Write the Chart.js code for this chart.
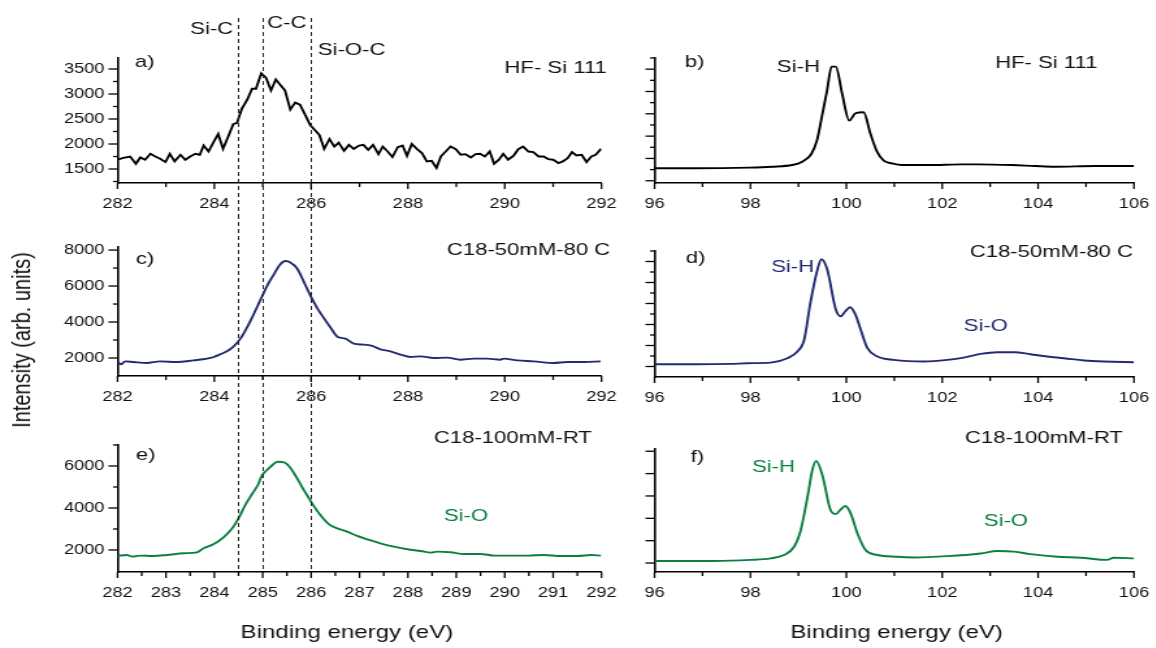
<!DOCTYPE html>
<html>
<head>
<meta charset="utf-8">
<title>XPS C1s / Si2p</title>
<script src="https://cdn.jsdelivr.net/npm/chart.js@4.4.0/dist/chart.umd.min.js"></script>
<style>
  html, body { margin: 0; padding: 0; background: #fff; }
  body { width: 1156px; height: 648px; overflow: hidden; position: relative; }
  /* the original figure is a stretched Arial figure: draw it at 889px and widen it */
  #figure { position: absolute; left: 0; top: 0; width: 889px; height: 648px; transform: scaleX(1.3); transform-origin: 0 0; }
  .panel { position: absolute; }
  #ytitle {
    position: absolute; left: 17px; top: 340px; white-space: nowrap;
    font: 20px "Liberation Sans", Arial, sans-serif; color: #111;
    transform: translate(-50%, -50%) rotate(-90deg);
  }
</style>
</head>
<body>
<div id="figure">
  <div class="panel" style="left:0;top:0"><canvas id="pa" width="480" height="215"></canvas></div>
  <div class="panel" style="left:0;top:215px"><canvas id="pc" width="480" height="210"></canvas></div>
  <div class="panel" style="left:0;top:425px"><canvas id="pe" width="480" height="223"></canvas></div>
  <div class="panel" style="left:480px;top:0"><canvas id="pb" width="409" height="215"></canvas></div>
  <div class="panel" style="left:480px;top:215px"><canvas id="pd" width="409" height="210"></canvas></div>
  <div class="panel" style="left:480px;top:425px"><canvas id="pf" width="409" height="223"></canvas></div>
  <div id="ytitle">Intensity (arb. units)</div>
</div>
<script>
// Data

// C 1s, HF-Si 111
const aEnergy = [282.0,282.1,282.26,282.38,282.47,282.57,282.68,282.78,282.88,282.99,
  283.08,283.18,283.3,283.4,283.5,283.61,283.7,283.78,283.88,283.99,
  284.08,284.18,284.3,284.39,284.47,284.57,284.68,284.78,284.86,284.97,
  285.07,285.17,285.27,285.36,285.46,285.57,285.67,285.77,285.88,285.98,
  286.09,286.17,286.27,286.38,286.48,286.57,286.68,286.78,286.88,286.99,
  287.08,287.18,287.28,287.39,287.48,287.58,287.68,287.79,287.89,287.98,
  288.08,288.19,288.29,288.39,288.49,288.59,288.68,288.78,288.88,288.99,
  289.09,289.19,289.3,289.4,289.49,289.59,289.69,289.78,289.88,289.97,
  290.07,290.18,290.28,290.38,290.49,290.59,290.7,290.8,290.9,291.0,
  291.11,291.2,291.3,291.39,291.48,291.59,291.69,291.79,291.88,291.99];
const aCounts = [1685,1718,1750,1605,1731,1685,1804,1750,1705,1640,
  1804,1652,1784,1685,1750,1804,1784,1969,1850,2048,
  2200,1903,2180,2398,2424,2708,2886,3104,3104,3414,
  3322,3071,3289,3183,3071,2688,2827,2787,2576,2378,
  2266,2180,1903,2100,1949,2028,1863,1982,1903,1969,
  1982,1883,1982,1797,1949,1850,1738,1936,1969,1764,
  2002,1896,1817,1652,1665,1520,1750,1850,1949,1896,
  1784,1797,1731,1797,1804,1750,1850,1605,1685,1804,
  1685,1764,1896,1949,1850,1837,1750,1750,1698,1685,
  1619,1652,1718,1837,1771,1784,1639,1750,1784,1903];

// C 1s, C18-50mM-80 C
const cEnergy = [282.0,282.07,282.16,282.33,282.6,282.88,283.23,283.57,283.85,283.99,
  284.12,284.26,284.4,284.54,284.67,284.81,284.95,285.09,285.23,285.36,
  285.47,285.57,285.71,285.85,285.98,286.12,286.26,286.4,286.55,286.71,
  286.88,287.09,287.26,287.43,287.64,287.85,288.05,288.26,288.53,288.81,
  289.08,289.36,289.63,289.91,289.98,290.26,290.6,291.01,291.29,291.64,291.98];
const cCounts = [1777,1647,1814,1777,1721,1814,1777,1870,1963,2056,
  2204,2372,2650,3078,3672,4415,5214,6013,6645,7202,
  7388,7314,6979,6236,5493,4805,4230,3691,3170,3078,
  2799,2743,2669,2483,2372,2186,2056,2093,2000,2019,
  1907,1963,1963,1907,1963,1870,1814,1721,1777,1777,1814];

// C 1s, C18-100mM-RT
const eEnergy = [282.0,282.19,282.3,282.47,282.74,283.02,283.37,283.64,283.78,283.99,
  284.19,284.37,284.5,284.64,284.78,284.9,284.99,285.09,285.2,285.3,
  285.44,285.57,285.71,285.85,286.02,286.19,286.37,286.54,286.74,286.95,
  287.16,287.43,287.71,287.99,288.26,288.47,288.61,288.88,289.16,289.5,
  289.78,290.12,290.47,290.81,291.16,291.5,291.78,291.99];
const eCounts = [1714,1762,1683,1730,1714,1762,1841,1889,2079,2286,
  2603,3032,3508,4142,4666,5095,5571,5809,6047,6205,
  6174,5920,5412,4857,4222,3666,3222,3032,2873,2667,
  2508,2317,2159,2032,1952,1873,1921,1889,1810,1810,
  1730,1730,1730,1762,1714,1714,1762,1730];

// Si 2p panels (no scale given, arbitrary units)
const bEnergy = [96.0,96.85,97.97,98.45,98.87,99.08,99.27,99.39,99.49,99.6,
  99.69,99.78,99.91,100.06,100.19,100.36,100.5,100.64,100.78,100.95,
  101.16,101.72,102.41,102.76,103.45,103.94,104.35,105.19,106.0];
const bIntensity = [1.12,1.12,1.18,1.26,1.41,1.71,2.4,3.66,5.75,8.14,
  10.23,10.23,7.84,5.39,6.05,6.14,4.25,2.61,1.8,1.56,
  1.41,1.41,1.47,1.47,1.41,1.32,1.26,1.32,1.32];

const dEnergy = [96.0,96.89,97.59,97.93,98.42,98.77,98.98,99.12,99.25,99.39,
  99.48,99.6,99.78,99.88,99.98,100.08,100.19,100.3,100.44,100.65,
  100.99,101.62,102.11,102.45,102.8,103.15,103.5,103.84,104.19,104.54,
  104.96,105.37,106.0];
const dIntensity = [0.21,0.21,0.25,0.31,0.37,0.79,1.43,2.55,6.06,9.1,
  10.21,9.26,5.42,4.78,5.26,5.65,4.94,3.5,1.75,0.95,
  0.63,0.47,0.63,0.85,1.2,1.36,1.36,1.17,0.95,0.79,
  0.57,0.47,0.41];

const fEnergy = [96.0,97.24,98.0,98.42,98.7,98.91,99.05,99.19,99.29,99.37,
  99.5,99.67,99.78,99.87,99.98,100.09,100.23,100.4,100.65,101.06,
  101.41,102.11,102.8,103.15,103.5,103.84,104.4,104.89,105.44,105.58,106.0];
const fIntensity = [0.09,0.09,0.14,0.21,0.36,0.73,1.48,2.96,4.15,4.57,
  3.93,2.37,2.19,2.37,2.55,2.22,1.33,0.58,0.36,0.28,
  0.25,0.31,0.43,0.54,0.51,0.4,0.28,0.24,0.14,0.24,0.21];

// Reference energies (dashed lines through the C 1s column)
const markerEnergies = [284.5, 285, 286];

// Tick positions; the labelled ones are multiples of "major"
const stepsBetween = (lo, hi, step) => {
  const n = Math.round((hi - lo) / step);
  return Array.from({ length: n + 1 }, (_, i) => Math.round((lo + i * step) * 1e6) / 1e6);
};
const cXTicks = stepsBetween(282, 292, 1);      // labels every 2 eV
const eXTicks = stepsBetween(282, 292, 0.5);    // labels every 1 eV
const siXTicks = stepsBetween(96, 106, 1);      // labels every 2 eV
const aYTicks = stepsBetween(1250, 3500, 250);  // labels every 500
const cYTicks = stepsBetween(2000, 8000, 1000); // labels every 2000
const eYTicks = stepsBetween(2000, 7000, 1000); // labels every 2000
const bYTicks = stepsBetween(0, 11, 1);
const dYTicks = stepsBetween(0, 11, 1);
const fYTicks = stepsBetween(0, 5, 1);

// Text labels, placed in data coordinates
const X_TITLE = "Binding energy (eV)";
const aNotes = [
  { text: "a)", x: 282.36, y: 3640, align: "left" },
  { text: "HF- Si 111", x: 292.11, y: 3520, align: "right" },
  { text: "Si-C", x: 284.39, y: 4300, align: "right" },
  { text: "C-C", x: 285.09, y: 4420, align: "left" },
  { text: "Si-O-C", x: 286.14, y: 3880, align: "left" },
];
const bNotes = [
  { text: "b)", x: 96.63, y: 10.65, align: "left" },
  { text: "Si-H", x: 99.0, y: 10.2, align: "center" },
  { text: "HF- Si 111", x: 104.17, y: 10.56, align: "center" },
];
const cNotes = [
  { text: "c)", x: 282.38, y: 7500, align: "left" },
  { text: "C18-50mM-80 C", x: 292.18, y: 8000, align: "right" },
];
const dNotes = [
  { text: "d)", x: 96.65, y: 10.3, align: "left" },
  { text: "Si-H", x: 98.88, y: 9.45, align: "center", color: "#232a6f" },
  { text: "Si-O", x: 102.91, y: 3.79, align: "center", color: "#232a6f" },
  { text: "C18-50mM-80 C", x: 105.98, y: 10.9, align: "right" },
];
const eNotes = [
  { text: "e)", x: 282.38, y: 6520, align: "left" },
  { text: "C18-100mM-RT", x: 291.8, y: 7330, align: "right" },
  { text: "Si-O", x: 289.2, y: 3620, align: "center", color: "#0b7f42" },
  { text: X_TITLE, x: 286.74, y: -1950, align: "center", size: 18.5 },
];
const fNotes = [
  { text: "f)", x: 96.75, y: 4.73, align: "left" },
  { text: "Si-H", x: 98.48, y: 4.29, align: "center", color: "#0b7f42" },
  { text: "Si-O", x: 103.33, y: 1.88, align: "center", color: "#0b7f42" },
  { text: "C18-100mM-RT", x: 104.12, y: 5.58, align: "center" },
  { text: X_TITLE, x: 101.05, y: -3.12, align: "center", size: 18.5 },
];

const FONT = '"Liberation Sans", Arial, sans-serif';
Chart.defaults.font.family = FONT;
Chart.defaults.color = "#000";

const isMultiple = (v, step) => Math.abs(v / step - Math.round(v / step)) < 1e-6;

// Plugins

// short/long tick marks drawn outward at every library tick
const axisTicks = {
  id: "axisTicks",
  afterDraw(chart, args, opts) {
    const ctx = chart.ctx;
    ctx.save();
    ctx.strokeStyle = "#000";
    ctx.lineWidth = 1.3;
    ["x", "y"].forEach(id => {
      const scale = chart.scales[id];
      const major = opts[id + "Major"];
      scale.ticks.forEach(t => {
        const big = isMultiple(t.value, major);
        const p = scale.getPixelForValue(t.value);
        ctx.beginPath();
        if (id === "x") {
          ctx.moveTo(p, scale.top);
          ctx.lineTo(p, scale.top + (big ? 6 : 4));
        } else {
          ctx.moveTo(scale.right, p);
          ctx.lineTo(scale.right - (big ? 7 : 3.5), p);
        }
        ctx.stroke();
      });
    });
    ctx.restore();
  },
};

// dashed vertical reference lines
const markerLines = {
  id: "markerLines",
  afterDraw(chart, args, opts) {
    if (!opts.show) return;
    const { ctx, chartArea } = chart;
    const x = chart.scales.x;
    const top = opts.from || 0;
    const bottom = opts.stopAtAxis ? chartArea.bottom : chart.height;
    ctx.save();
    ctx.strokeStyle = "#222";
    ctx.lineWidth = 1;
    ctx.setLineDash([4, 3]);
    markerEnergies.forEach(v => {
      const px = Math.round(x.getPixelForValue(v)) + 0.5;
      ctx.beginPath();
      ctx.moveTo(px, top);
      ctx.lineTo(px, bottom);
      ctx.stroke();
    });
    ctx.restore();
  },
};

// free text labels
const notes = {
  id: "notes",
  afterDraw(chart, args, opts) {
    const { ctx } = chart;
    const { x, y } = chart.scales;
    ctx.save();
    ctx.textBaseline = "middle";
    (opts.items || []).forEach(n => {
      ctx.font = (n.size || 17) + "px " + FONT;
      ctx.fillStyle = n.color || "#111";
      ctx.textAlign = n.align;
      ctx.fillText(n.text, x.getPixelForValue(n.x), y.getPixelForValue(n.y));
    });
    ctx.restore();
  },
};

// Chart declaration

const makePanel = p => {
  const ctx = document.getElementById(p.id).getContext("2d");
  return new Chart(ctx, {
    type: "line",
    data: {
      datasets: [
        {
          data: p.energy.map((e, i) => ({ x: e, y: p.counts[i] })),
          borderColor: p.color,
          borderWidth: 1.9,
          pointRadius: 0,
          fill: false,
          cubicInterpolationMode: p.smooth ? "monotone" : "default",
          tension: 0,
        },
      ],
    },
    options: {
      responsive: false,
      animation: false,
      events: [],
      layout: { padding: { top: p.top, right: p.right, left: 0, bottom: 0 } },
      scales: {
        x: {
          type: "linear",
          min: p.xRange[0],
          max: p.xRange[1],
          grid: { display: false, drawTicks: false },
          border: { display: true, color: "#000", width: 1.6 },
          ticks: {
            autoSkip: false,
            maxRotation: 0,
            padding: 13,
            font: { size: 14 },
            color: "#111",
            callback: v => (isMultiple(v, p.xMajor) ? String(v) : ""),
          },
          afterBuildTicks: s => { s.ticks = p.xTicks.map(v => ({ value: v })); },
          afterFit: s => { s.height = p.xHeight; s.paddingLeft = 0; s.paddingRight = 0; },
        },
        y: {
          type: "linear",
          min: p.yRange[0],
          max: p.yRange[1],
          grid: { display: false, drawTicks: false },
          border: { display: true, color: "#000", width: 1.6 },
          ticks: {
            autoSkip: false,
            padding: 10,
            font: { size: 14 },
            color: "#111",
            callback: v => (p.yLabels && isMultiple(v, p.yMajor) ? String(v) : ""),
          },
          afterBuildTicks: s => { s.ticks = p.yTicks.map(v => ({ value: v })); },
          afterFit: s => { s.width = p.yWidth; s.paddingTop = 0; s.paddingBottom = 0; },
        },
      },
      plugins: {
        legend: { display: false },
        tooltip: { enabled: false },
        axisTicks: { xMajor: p.xMajor, yMajor: p.yMajor },
        markerLines: { show: !!p.markers, from: p.markers ? p.markers.from : 0, stopAtAxis: p.markers ? p.markers.stopAtAxis : false },
        notes: { items: p.notes },
      },
    },
    plugins: [markerLines, axisTicks, notes],
  });
};

const LEFT = { xRange: [282, 292], xTicks: cXTicks, xMajor: 2, yWidth: 90.4, right: 17.3, yLabels: true };
const RIGHT = { xRange: [96, 106], xTicks: siXTicks, xMajor: 2, yWidth: 23.5, right: 16.7, yLabels: false, smooth: true };

[
  { ...LEFT, id: "pa", energy: aEnergy, counts: aCounts, color: "#000",
    yRange: [1220, 3720], yTicks: aYTicks, yMajor: 500, top: 58, xHeight: 32, notes: aNotes,
    markers: { from: 18, stopAtAxis: false }, smooth: false },
  { ...LEFT, id: "pc", energy: cEnergy, counts: cCounts, color: "#232a6f",
    yRange: [1000, 8170], yTicks: cYTicks, yMajor: 2000, top: 32, xHeight: 49, notes: cNotes,
    markers: { from: 0, stopAtAxis: false }, smooth: true },
  { ...LEFT, id: "pe", energy: eEnergy, counts: eCounts, color: "#0b7f42", xTicks: eXTicks, xMajor: 1,
    yRange: [950, 7000], yTicks: eYTicks, yMajor: 2000, top: 20, xHeight: 76, notes: eNotes,
    markers: { from: 0, stopAtAxis: true }, smooth: true },
  { ...RIGHT, id: "pb", energy: bEnergy, counts: bIntensity, color: "#000",
    yRange: [-0.2, 11], yTicks: bYTicks, yMajor: 2, top: 58, xHeight: 32, notes: bNotes },
  { ...RIGHT, id: "pd", energy: dEnergy, counts: dIntensity, color: "#232a6f",
    yRange: [-1, 11], yTicks: dYTicks, yMajor: 2, top: 36, xHeight: 48, notes: dNotes },
  { ...RIGHT, id: "pf", energy: fEnergy, counts: fIntensity, color: "#0b7f42",
    yRange: [-0.4, 5.1], yTicks: fYTicks, yMajor: 1, top: 24, xHeight: 76, notes: fNotes },
].forEach(makePanel);
</script>
</body>
</html>
